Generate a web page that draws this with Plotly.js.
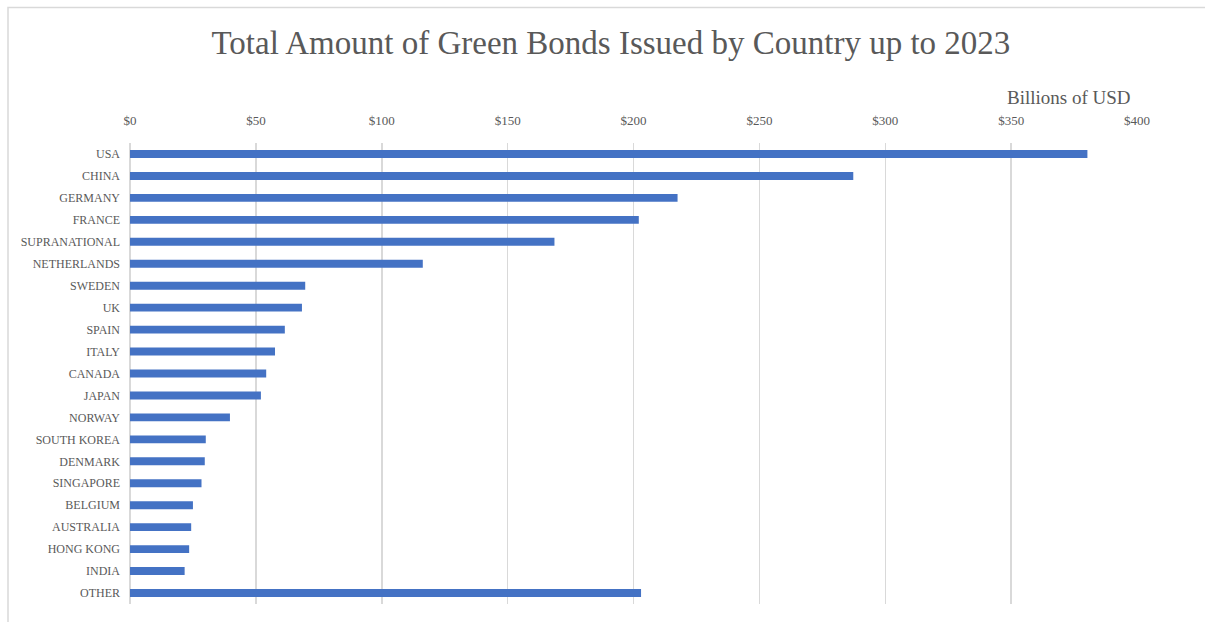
<!DOCTYPE html>
<html>
<head>
<meta charset="utf-8">
<script src="https://cdn.plot.ly/plotly-3.0.1.min.js"></script>
<style>
html,body{margin:0;padding:0;background:#fff;}
#chart{width:1205px;height:622px;}
</style>
</head>
<body>
<div id="chart"></div>
<script>
const countries = ["USA","CHINA","GERMANY","FRANCE","SUPRANATIONAL","NETHERLANDS","SWEDEN","UK","SPAIN","ITALY","CANADA","JAPAN","NORWAY","SOUTH KOREA","DENMARK","SINGAPORE","BELGIUM","AUSTRALIA","HONG KONG","INDIA","OTHER"];
const amounts = [380.3,287.3,217.5,202.1,168.6,116.3,69.6,68.3,61.5,57.6,54.1,52.0,39.7,30.1,29.7,28.4,25.0,24.3,23.5,21.7,203.0];
const tickValues = [0,50,100,150,200,250,300,350,400];
const tickLabels = ["$0","$50","$100","$150","$200","$250","$300","$350","$400"];

const FONT = "Liberation Serif";
const GRAY = "#595959";

const trace = {
  type: "bar",
  orientation: "h",
  x: amounts,
  y: countries,
  width: 0.36,
  marker: {color: "#4472C4", line: {width: 0}},
  hoverinfo: "x+y"
};

const layout = {
  width: 1205,
  height: 622,
  margin: {l: 130, r: 68, t: 143, b: 18, pad: 0},
  paper_bgcolor: "#ffffff",
  plot_bgcolor: "#ffffff",
  showlegend: false,
  font: {family: FONT},
  title: {
    text: "Total Amount of Green Bonds Issued by Country up to 2023",
    font: {family: FONT, size: 33, color: GRAY},
    x: 0.507, xanchor: "center",
    y: 0.932, yanchor: "middle",
    xref: "container"
  },
  xaxis: {
    side: "top",
    range: [0, 400],
    tickvals: tickValues,
    ticktext: tickLabels,
    showgrid: true,
    gridcolor: "#d9d9d9",
    gridwidth: 1.5,
    zeroline: true,
    zerolinecolor: "#d9d9d9",
    zerolinewidth: 1.5,
    showline: false,
    ticks: "",
    ticklabelstandoff: 14,
    tickfont: {family: FONT, size: 13, color: GRAY},
    fixedrange: true
  },
  yaxis: {
    autorange: "reversed",
    type: "category",
    showgrid: false,
    zeroline: false,
    showline: false,
    ticks: "",
    ticklabelstandoff: 9,
    tickfont: {family: FONT, size: 12, color: GRAY},
    fixedrange: true
  },
  annotations: [{
    text: "Billions of USD",
    xref: "paper", yref: "paper",
    x: 0.996, y: (604 - 97) / 461,
    xanchor: "right", yanchor: "middle",
    showarrow: false,
    font: {family: FONT, size: 19, color: GRAY}
  }],
  shapes: [{
    type: "rect",
    xref: "paper", yref: "paper",
    x0: (8 - 130) / 1007, x1: (1215 - 130) / 1007,
    y0: (604 - 630) / 461, y1: (604 - 7.5) / 461,
    line: {color: "#d9d9d9", width: 1.5},
    fillcolor: "rgba(0,0,0,0)",
    layer: "below"
  }]
};

Plotly.newPlot("chart", [trace], layout, {displayModeBar: false, staticPlot: true});
</script>
</body>
</html>
